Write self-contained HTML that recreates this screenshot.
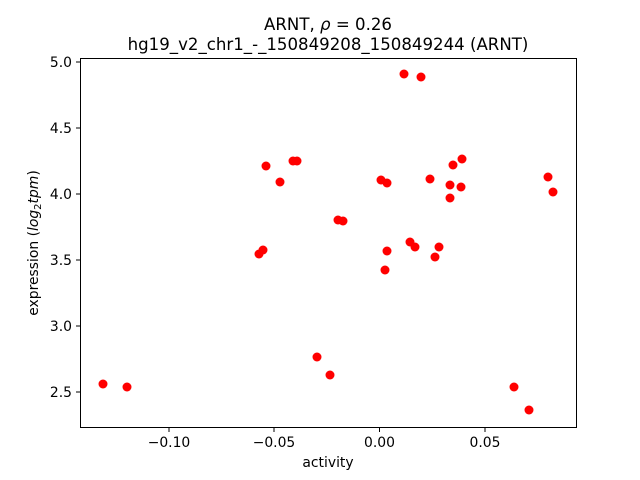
<!DOCTYPE html>
<html><head><style>body{margin:0;background:#fff}svg{display:block}text{font-family:"DejaVu Sans","Liberation Sans",sans-serif;fill:#000}</style></head><body>
<svg width="640" height="480" xmlns="http://www.w3.org/2000/svg">
<rect width="640" height="480" fill="#fff"/>
<text x="328" y="30" font-size="16.6" text-anchor="middle">ARNT, <tspan font-style="italic">ρ</tspan> = 0.26</text>
<text x="328" y="50" font-size="16.6" text-anchor="middle">hg19_v2_chr1_-_150849208_150849244 (ARNT)</text>
<g fill="#ff0000">
<circle cx="103" cy="384" r="4.5"/><circle cx="127" cy="387" r="4.5"/><circle cx="259" cy="254" r="4.5"/><circle cx="263" cy="250" r="4.5"/><circle cx="266" cy="166" r="4.5"/><circle cx="280" cy="182" r="4.5"/><circle cx="293" cy="161" r="4.5"/><circle cx="297" cy="161" r="4.5"/><circle cx="317" cy="357" r="4.5"/><circle cx="330" cy="375" r="4.5"/><circle cx="338" cy="220" r="4.5"/><circle cx="343" cy="221" r="4.5"/><circle cx="381" cy="180" r="4.5"/><circle cx="387" cy="183" r="4.5"/><circle cx="385" cy="270" r="4.5"/><circle cx="387" cy="251" r="4.5"/><circle cx="404" cy="74" r="4.5"/><circle cx="421" cy="77" r="4.5"/><circle cx="410" cy="242" r="4.5"/><circle cx="415" cy="247" r="4.5"/><circle cx="430" cy="179" r="4.5"/><circle cx="435" cy="257" r="4.5"/><circle cx="439" cy="247" r="4.5"/><circle cx="450" cy="185" r="4.5"/><circle cx="450" cy="198" r="4.5"/><circle cx="453" cy="165" r="4.5"/><circle cx="461" cy="187" r="4.5"/><circle cx="462" cy="159" r="4.5"/><circle cx="514" cy="387" r="4.5"/><circle cx="529" cy="410" r="4.5"/><circle cx="548" cy="177" r="4.5"/><circle cx="553" cy="192" r="4.5"/>
</g>
<rect x="80.5" y="58.5" width="496" height="369" fill="none" stroke="#000" stroke-width="1"/>
<g stroke="#000">
<line x1="169" y1="428" x2="169" y2="432"/><line x1="274" y1="428" x2="274" y2="432"/><line x1="379.5" y1="428" x2="379.5" y2="432"/><line x1="485" y1="428" x2="485" y2="432"/>
<line x1="76" y1="62" x2="80" y2="62"/><line x1="76" y1="128" x2="80" y2="128"/><line x1="76" y1="194" x2="80" y2="194"/><line x1="76" y1="260" x2="80" y2="260"/><line x1="76" y1="326" x2="80" y2="326"/><line x1="76" y1="392" x2="80" y2="392"/>
</g>
<g font-size="13.9" text-anchor="middle">
<text x="169" y="447">−0.10</text><text x="274" y="447">−0.05</text><text x="379.5" y="447">0.00</text><text x="485" y="447">0.05</text>
<text x="328" y="467">activity</text>
</g>
<g font-size="13.9" text-anchor="end">
<text x="72" y="67">5.0</text><text x="72" y="133">4.5</text><text x="72" y="199">4.0</text><text x="72" y="265">3.5</text><text x="72" y="331">3.0</text><text x="72" y="397">2.5</text>
</g>
<text transform="translate(38,243) rotate(-90)" font-size="13.9" text-anchor="middle">expression (<tspan font-style="italic">log</tspan><tspan font-size="10" dy="3">2</tspan><tspan dy="-3" font-style="italic">tpm</tspan>)</text>
</svg>
</body></html>
